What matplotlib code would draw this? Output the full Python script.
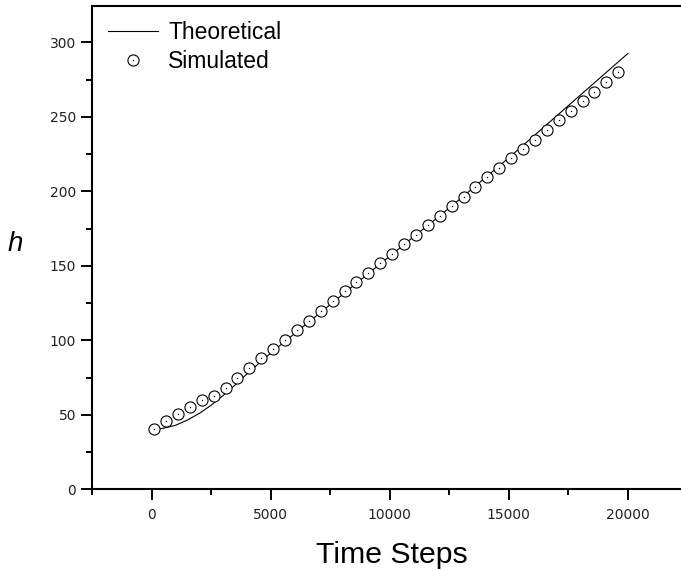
import matplotlib
matplotlib.use("Agg")
import matplotlib.pyplot as plt
from matplotlib.ticker import MultipleLocator
from matplotlib.lines import Line2D

# ---- data ----
theory_x = [0, 500, 1000, 1500, 2000, 2500, 3000, 3500, 4000, 5000, 6000, 7000,
            8000, 9000, 10000, 11000, 12000, 13000, 14000, 15000, 16000,
            17000, 18000, 19000, 20000]
theory_y = [40, 41, 43, 46.5, 51, 56.5, 63, 70, 77.5, 91.5, 104.5, 117.5,
            130.5, 143.5, 156.5, 169.5, 182.3, 195.5, 209, 222.5, 236.5,
            250.5, 264.5, 278.5, 292.5]

sim_x = [100 + 500 * i for i in range(40)]
sim_y = [40.5, 46, 50.3, 55, 59.7, 62.8, 68, 74.9, 81.2, 88.3,
         94.2, 100.2, 106.7, 113.2, 119.7, 126.4, 132.9, 139.1, 145.4, 151.7,
         158.1, 164.4, 170.9, 177.5, 183.4, 190, 196.4, 203.1, 209.4, 215.8,
         222.1, 228.4, 234.4, 241.3, 247.8, 254.1, 260.6, 266.8, 273.1, 279.9]

x_ticks = [0, 5000, 10000, 15000, 20000]
y_ticks = [0, 50, 100, 150, 200, 250, 300]

# ---- figure ----
W, H = 681, 571
fig = plt.figure(figsize=(W / 100, H / 100), dpi=100)
left, right, bottom, top = 92.3, 681, 489.3, 6
ax = fig.add_axes([left / W, (H - bottom) / H, (right - left) / W, (bottom - top) / H])

MS = 8.0
ax.plot(theory_x, theory_y, color="black", lw=0.8, zorder=2)
ax.plot(sim_x, sim_y, ls="none", marker="o", ms=MS, mfc="white", mec="black",
        mew=0.8, zorder=3)
ax.plot(sim_x, sim_y, ls="none", marker="o", ms=1.0, mfc="black", mec="none",
        zorder=4)

ax.set_xlim(-2500, 22235)
ax.set_ylim(0, 324.4)
ax.set_xticks(x_ticks)
ax.set_yticks(y_ticks)
ax.xaxis.set_minor_locator(MultipleLocator(2500))
ax.yaxis.set_minor_locator(MultipleLocator(25))

for s in ["left", "bottom", "top"]:
    ax.spines[s].set_linewidth(1.5)
ax.spines["right"].set_visible(False)

ax.tick_params(axis="both", which="major", direction="out", length=7.6, width=1.4,
               labelsize=10, labelcolor="#222222", top=False, right=False)
ax.tick_params(axis="both", which="minor", direction="out", length=4, width=1.4,
               top=False, right=False)
ax.tick_params(axis="x", which="major", pad=6)
ax.tick_params(axis="y", which="major", pad=4)
for lab in ax.get_xticklabels() + ax.get_yticklabels():
    lab.set_family("DejaVu Sans")

fig.text(316 / W, 1 - 563 / H, "Time Steps", family="Liberation Sans",
         fontsize=21.8, ha="left", va="baseline")
fig.text(8 / W, 1 - 251 / H, "h", family="Liberation Sans", style="italic",
         fontsize=20, ha="left", va="baseline")

h_line = Line2D([], [], color="black", lw=0.8)
h_circ = Line2D([], [], ls="none", marker="o", ms=MS, mfc="white", mec="black", mew=0.8)
h_dot = Line2D([], [], ls="none", marker="o", ms=1.0, mfc="black", mec="none")
leg = ax.legend([h_line, (h_circ, h_dot)], ["Theoretical", "Simulated"],
                loc="upper left", bbox_to_anchor=(108 / W, 1 - 21 / H),
                bbox_transform=fig.transFigure, frameon=False, borderpad=0,
                borderaxespad=0, handlelength=2.2, handletextpad=0.42,
                labelspacing=0.25, prop={"family": "Liberation Sans", "size": 16.5},
                numpoints=1)

fig.savefig("out.png", dpi=100)
